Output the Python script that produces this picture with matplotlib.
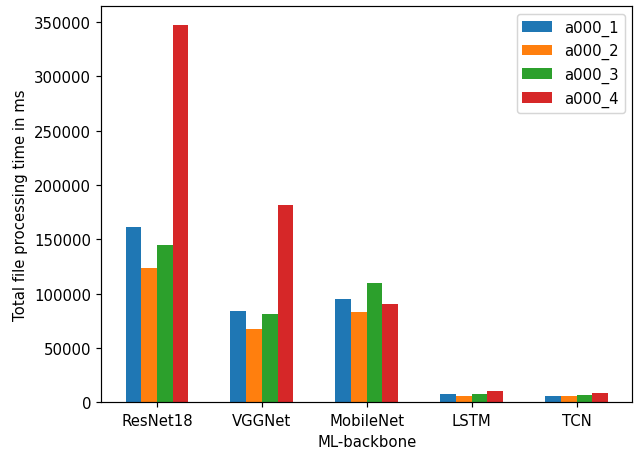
import matplotlib
matplotlib.use("Agg")
import matplotlib.pyplot as plt
import numpy as np

categories = ["ResNet18", "VGGNet", "MobileNet", "LSTM", "TCN"]
series_names = ["a000_1", "a000_2", "a000_3", "a000_4"]
a000_1 = [161600, 84000, 94800, 7400, 5500]
a000_2 = [123600, 67500, 83100, 5500, 5500]
a000_3 = [145100, 81000, 109800, 7400, 6400]
a000_4 = [347200, 181300, 90200, 10100, 8300]
series = [a000_1, a000_2, a000_3, a000_4]

DPI = 107
fig = plt.figure(figsize=(634 / DPI, 453 / DPI), dpi=DPI)
ax = fig.add_axes([0.160, 0.1097, 0.837, 0.8743])

x = np.arange(len(categories))
w = 0.15
for i, (name, vals) in enumerate(zip(series_names, series)):
    ax.bar(x + (i - 1.5) * w, vals, w, label=name)

ax.set_xticks(x)
ax.set_xticklabels(categories)
ax.set_xlabel("ML-backbone")
ax.set_ylabel("Total file processing time in ms")
ax.legend(loc="upper right")

fig.savefig("out.png", dpi=DPI)
